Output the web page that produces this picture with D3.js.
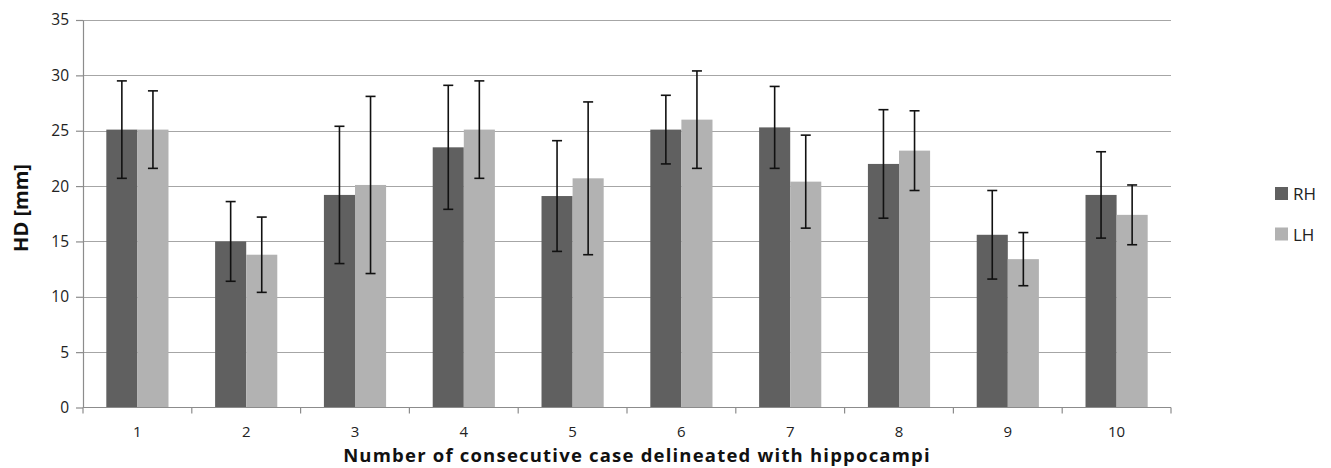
<!DOCTYPE html>
<html>
<head>
<meta charset="utf-8">
<script src="https://cdn.jsdelivr.net/npm/d3@7"></script>
<style>
  html, body { margin: 0; padding: 0; background: #fff; }
  svg { display: block; font-family: "Open Sans", "Liberation Sans", sans-serif; }
</style>
</head>
<body>
<svg id="chart" width="1331" height="468"></svg>
<script>
// Hausdorff distance per consecutive case, right and left hippocampus
const categories = ["1", "2", "3", "4", "5", "6", "7", "8", "9", "10"];
const seriesNames = ["RH", "LH"];
const rhValues = [25.1, 15.0, 19.2, 23.5, 19.1, 25.1, 25.3, 22.0, 15.6, 19.2];
const rhErrors = [4.4, 3.6, 6.2, 5.6, 5.0, 3.1, 3.7, 4.9, 4.0, 3.9];
const lhValues = [25.1, 13.8, 20.1, 25.1, 20.7, 26.0, 20.4, 23.2, 13.4, 17.4];
const lhErrors = [3.5, 3.4, 8.0, 4.4, 6.9, 4.4, 4.2, 3.6, 2.4, 2.7];
const yTicks = [0, 5, 10, 15, 20, 25, 30, 35];

const colors = { RH: "#606060", LH: "#b2b2b2" };

const svg = d3.select("#chart");
const plot = { left: 83, right: 1171, top: 20, bottom: 407.5 };

const x = d3.scaleBand().domain(categories).range([plot.left, plot.right]).padding(0);
const xSub = d3.scaleBand().domain(seriesNames).range([0, x.bandwidth()])
  .paddingInner(0).paddingOuter(0.75);
const y = d3.scaleLinear().domain([0, 35]).range([plot.bottom, plot.top]);

const rows = categories.map((c, i) => ({
  cat: c,
  items: [
    { key: "RH", value: rhValues[i], err: rhErrors[i] },
    { key: "LH", value: lhValues[i], err: lhErrors[i] }
  ]
}));

// horizontal gridlines
svg.append("g")
  .selectAll("line")
  .data(yTicks.filter(t => t > 0))
  .join("line")
  .attr("x1", plot.left).attr("x2", plot.right)
  .attr("y1", d => Math.round(y(d)) + 0.5).attr("y2", d => Math.round(y(d)) + 0.5)
  .attr("stroke", "#a6a6a6").attr("stroke-width", 1.2);

// bars
const groups = svg.append("g")
  .selectAll("g")
  .data(rows)
  .join("g")
  .attr("transform", d => `translate(${x(d.cat)},0)`);

groups.selectAll("rect")
  .data(d => d.items)
  .join("rect")
  .attr("x", d => xSub(d.key))
  .attr("width", xSub.bandwidth())
  .attr("y", d => y(d.value))
  .attr("height", d => y(0) - y(d.value))
  .attr("fill", d => colors[d.key]);

// error bars
const capHalf = 5;
const eb = groups.selectAll("g.err")
  .data(d => d.items)
  .join("g")
  .attr("class", "err")
  .attr("transform", d => `translate(${xSub(d.key) + xSub.bandwidth() / 2},0)`)
  .attr("stroke", "#111").attr("stroke-width", 1.6);
eb.append("line")
  .attr("x1", 0).attr("x2", 0)
  .attr("y1", d => y(d.value + d.err)).attr("y2", d => y(d.value - d.err));
eb.append("line")
  .attr("x1", -capHalf).attr("x2", capHalf)
  .attr("y1", d => y(d.value + d.err)).attr("y2", d => y(d.value + d.err));
eb.append("line")
  .attr("x1", -capHalf).attr("x2", capHalf)
  .attr("y1", d => y(d.value - d.err)).attr("y2", d => y(d.value - d.err));

// y axis
const yAxis = svg.append("g")
  .attr("transform", `translate(${plot.left},0)`)
  .call(d3.axisLeft(y).tickValues(yTicks).tickSize(7).tickPadding(7).tickSizeOuter(0));
yAxis.select(".domain").attr("stroke", "#8c8c8c").attr("stroke-width", 1.2);
yAxis.selectAll(".tick line").attr("stroke", "#8c8c8c").attr("stroke-width", 1.2);
yAxis.selectAll(".tick text")
  .attr("font-size", 15.5).attr("fill", "#222")
  .attr("font-family", "Open Sans, sans-serif");

// x axis with ticks at category boundaries
const xAxis = svg.append("g")
  .attr("transform", `translate(0,${plot.bottom})`);
xAxis.append("line")
  .attr("x1", plot.left).attr("x2", plot.right)
  .attr("y1", 0).attr("y2", 0)
  .attr("stroke", "#8c8c8c").attr("stroke-width", 1.2);
const boundaries = categories.map(c => x(c)).concat([x(categories[categories.length - 1]) + x.bandwidth()]);
xAxis.selectAll("line.tk")
  .data(boundaries)
  .join("line")
  .attr("class", "tk")
  .attr("x1", d => d).attr("x2", d => d)
  .attr("y1", 0).attr("y2", 6)
  .attr("stroke", "#8c8c8c").attr("stroke-width", 1.2);
xAxis.selectAll("text")
  .data(categories)
  .join("text")
  .attr("x", d => x(d) + x.bandwidth() / 2)
  .attr("y", 29)
  .attr("text-anchor", "middle")
  .attr("font-size", 15).attr("fill", "#222")
  .text(d => d);

// axis titles
svg.append("text")
  .attr("x", 637)
  .attr("y", 461.5)
  .attr("text-anchor", "middle")
  .attr("font-size", 18.5).attr("font-weight", "bold").attr("fill", "#111")
  .attr("letter-spacing", 1.2)
  .text("Number of consecutive case delineated with hippocampi");

svg.append("text")
  .attr("transform", "translate(28,208) rotate(-90)")
  .attr("text-anchor", "middle")
  .attr("font-size", 20).attr("font-weight", "bold").attr("fill", "#111")
  .text("HD [mm]");

// legend
const legend = svg.append("g").attr("transform", "translate(1275,187)");
const li = legend.selectAll("g")
  .data(seriesNames)
  .join("g")
  .attr("transform", (d, i) => `translate(0,${i * 40.5})`);
li.append("rect").attr("width", 13).attr("height", 13).attr("fill", d => colors[d]);
li.append("text")
  .attr("x", 18).attr("y", 13)
  .attr("font-size", 17).attr("fill", "#222")
  .text(d => d);
</script>
</body>
</html>
